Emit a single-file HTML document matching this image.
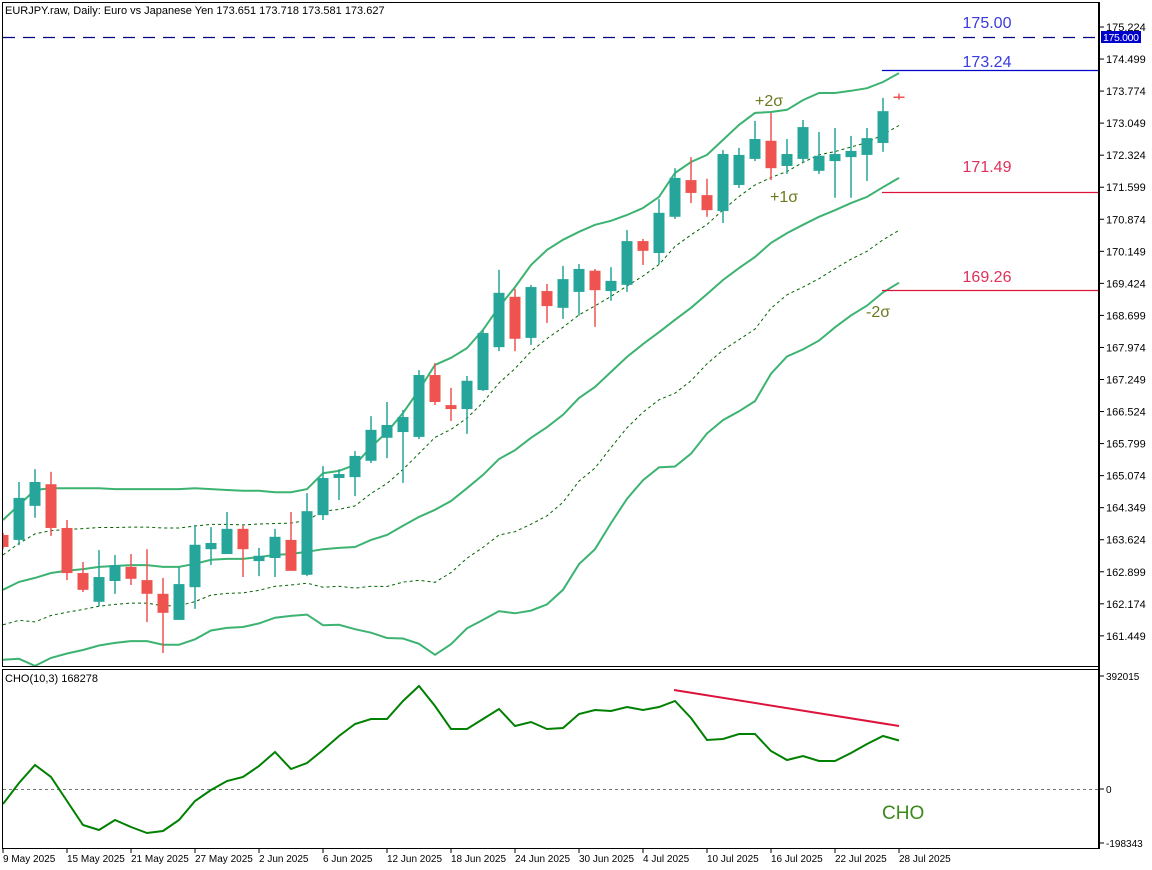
<!DOCTYPE html>
<html><head><meta charset="utf-8"><style>
html,body{margin:0;padding:0;background:#fff;}
svg{display:block;font-family:"Liberation Sans",sans-serif;}
</style></head><body>
<svg id="chart" width="1152" height="870" viewBox="0 0 1152 870">
<defs>
<clipPath id="mainClip"><rect x="3" y="3" width="1095" height="663"/></clipPath>
<clipPath id="choClip"><rect x="3" y="670" width="1095" height="178"/></clipPath>
</defs>
<rect x="0" y="0" width="1152" height="870" fill="#fff"/>
<g id="mainMarks" clip-path="url(#mainClip)"></g>
<g id="choMarks" clip-path="url(#choClip)"></g>
<g id="axes"></g>
<rect x="2.5" y="2.5" width="1096" height="664" fill="none" stroke="#000" stroke-width="1"/>
<rect x="2.5" y="669.5" width="1096" height="179" fill="none" stroke="#000" stroke-width="1"/>
<line x1="1099" y1="2" x2="1099" y2="849" stroke="#000" stroke-width="2"/>
<text x="5" y="14" font-size="11" fill="#000">EURJPY.raw, Daily:  Euro vs Japanese Yen  173.651 173.718 173.581 173.627</text>
<text x="5" y="682" font-size="11" fill="#000">CHO(10,3) 168278</text>
</svg>
<script>
const dates = ["9 May 2025","12 May","13 May","14 May","15 May 2025","16 May","19 May","20 May","21 May 2025","22 May","23 May","26 May","27 May 2025","28 May","29 May","30 May","2 Jun 2025","3 Jun","4 Jun","5 Jun","6 Jun 2025","9 Jun","10 Jun","11 Jun","12 Jun 2025","13 Jun","16 Jun","17 Jun","18 Jun 2025","19 Jun","20 Jun","23 Jun","24 Jun 2025","25 Jun","26 Jun","27 Jun","30 Jun 2025","1 Jul","2 Jul","3 Jul","4 Jul 2025","7 Jul","8 Jul","9 Jul","10 Jul 2025","11 Jul","14 Jul","15 Jul","16 Jul 2025","17 Jul","18 Jul","21 Jul","22 Jul 2025","23 Jul","24 Jul","25 Jul","28 Jul 2025"];
const opens = [163.73,163.62,164.39,164.88,163.89,162.87,162.22,162.69,163.01,162.71,162.40,161.81,162.55,163.41,163.30,163.87,163.14,163.21,163.62,162.83,164.18,165.02,165.04,165.41,165.93,166.06,165.95,167.35,166.67,166.58,167.01,167.98,169.12,168.19,169.25,168.87,169.23,169.71,169.25,169.39,170.38,170.11,170.93,171.76,171.42,171.06,171.65,172.24,172.65,172.08,172.24,171.97,172.19,172.28,172.33,172.60,173.651];
const highs = [163.78,164.93,165.22,165.16,164.07,163.12,163.39,163.28,163.30,163.41,162.76,163.01,163.96,163.91,164.25,163.94,163.44,163.87,164.25,164.68,165.29,165.22,165.63,166.42,166.74,166.56,167.46,167.62,167.06,167.33,168.37,169.73,169.30,169.39,169.41,169.82,169.86,169.75,169.79,170.63,170.43,171.33,172.03,172.28,171.79,172.44,172.49,173.10,173.28,172.69,173.12,172.85,172.94,172.76,172.94,173.62,173.718];
const lows = [163.41,163.50,164.12,163.71,162.71,162.44,162.12,162.40,162.60,161.76,161.06,161.81,162.06,163.05,163.30,162.78,162.80,162.78,162.92,162.80,164.07,164.52,164.61,165.36,165.47,164.91,165.90,166.67,166.31,166.02,166.99,167.89,167.89,168.03,168.53,168.62,168.69,168.44,169.03,169.23,169.84,169.86,170.88,171.24,170.93,170.79,171.58,172.19,171.76,171.90,172.17,171.90,171.36,171.36,171.74,172.40,173.581];
const closes = [163.46,164.57,164.93,163.89,162.87,162.49,162.78,163.05,162.74,162.40,161.97,162.62,163.51,163.55,163.87,163.41,163.26,163.69,162.92,164.27,165.02,165.11,165.52,166.11,166.22,166.40,167.35,166.74,166.58,167.22,168.30,169.21,168.17,169.34,168.91,169.52,169.75,169.27,169.48,170.38,170.16,171.02,171.81,171.47,171.08,172.35,172.33,172.69,172.03,172.35,172.96,172.31,172.35,172.42,172.71,173.32,173.627];
const bbMid = [162.49,162.67,162.76,162.87,162.92,162.96,163.01,163.03,163.05,163.05,163.01,163.01,163.08,163.17,163.19,163.19,163.23,163.28,163.30,163.35,163.41,163.44,163.46,163.62,163.73,163.94,164.14,164.30,164.50,164.79,165.09,165.45,165.65,165.93,166.17,166.45,166.83,167.08,167.42,167.76,168.05,168.32,168.60,168.87,169.18,169.50,169.77,170.02,170.34,170.56,170.75,170.93,171.08,171.24,171.38,171.60,171.81];
const bbUpper2 = [164.07,164.41,164.75,164.79,164.79,164.79,164.79,164.77,164.77,164.77,164.77,164.77,164.79,164.77,164.75,164.73,164.73,164.70,164.70,164.77,165.13,165.18,165.32,165.72,166.06,166.49,167.01,167.58,167.74,167.96,168.37,168.89,169.34,169.84,170.18,170.41,170.59,170.75,170.84,170.97,171.13,171.38,171.92,172.17,172.33,172.67,173.01,173.28,173.30,173.35,173.57,173.73,173.73,173.78,173.84,173.98,174.18];
const choValues = [-52050,20820,83280,41640,-41640,-124920,-142270,-107570,-131860,-152680,-145740,-107570,-41640,-3470,27760,41640,79810,128390,69400,90220,135330,183910,225550,242900,242900,305360,357410,288010,208200,208200,242900,277600,218610,232490,208200,211670,260250,274130,270660,284540,274130,284540,305360,246370,170030,173500,190850,190850,131860,100630,114510,97160,97160,124920,156150,183910,168278];
const priceTicks = [175.224,174.499,173.774,173.049,172.324,171.599,170.874,170.149,169.424,168.699,167.974,167.249,166.524,165.799,165.074,164.349,163.624,162.899,162.174,161.449];
const choTicks = [392015,0,-198343];
const choTickLabels = ["392015","0","-198343"];

const NS = "http://www.w3.org/2000/svg";
const xBar = i => 3 + 16 * i;
const yP = p => 27 + (175.224 - p) * 44.2;
const yC = v => 789 - v / 3470;
function mk(tag, attrs, parent) {
  const e = document.createElementNS(NS, tag);
  for (const k in attrs) e.setAttribute(k, attrs[k]);
  parent.appendChild(e);
  return e;
}
const main = document.getElementById('mainMarks');
const cho = document.getElementById('choMarks');
const axes = document.getElementById('axes');

function bandPts(k) {
  return bbMid.map((m, i) => { const s = (bbUpper2[i] - m) / 2; return xBar(i) + ',' + yP(m + k * s).toFixed(1); }).join(' ');
}
const bandDefs = [[2,'bb-upper-2sigma',false],[1,'bb-upper-1sigma',true],[0,'bb-middle',false],[-1,'bb-lower-1sigma',true],[-2,'bb-lower-2sigma',false]];
bandDefs.forEach(b => {
  const pl = mk('polyline', {points: bandPts(b[0]), fill: 'none', stroke: b[2] ? '#006400' : '#3cb371', 'stroke-width': b[2] ? 1 : 2, 'stroke-dasharray': b[2] ? '3,3' : 'none'}, main);
  
  
});

opens.forEach((o, i) => {
  const c = closes[i], up = c >= o, col = up ? '#26a69a' : '#ef5350', x = xBar(i);
  const g = mk('g', {}, main);
  
  
  mk('line', {x1: x, x2: x, y1: yP(highs[i]), y2: yP(lows[i]), stroke: col, 'stroke-width': 1.5}, g);
  const t = yP(Math.max(o, c)), b = yP(Math.min(o, c));
  mk('rect', {x: x - 5.5, y: t, width: 11, height: Math.max(1.5, b - t), fill: col}, g);
});

function hline(y, x1, col, dash, name) {
  const l = mk('line', {x1: x1, x2: 1098, y1: y, y2: y, stroke: col, 'stroke-width': 1.2, 'stroke-dasharray': dash}, main);
  
  
}
hline(37.5, 3, '#000080', '12,8', 'level-175-line');
hline(70.5, 882, '#0000cd', 'none', 'level-173-24-line');
hline(192.5, 882, '#dc143c', 'none', 'level-171-49-line');
hline(290.5, 882, '#dc143c', 'none', 'level-169-26-line');
function label(x, y, txt, col, size, name, anchor) {
  const t = mk('text', {x: x, y: y, fill: col, 'font-size': size, 'text-anchor': anchor || 'start'}, main);
  t.textContent = txt;
  
  
  return t;
}
label(987, 28, '175.00', '#3a3ae0', 16, 'level-175-label', 'middle');
label(987, 67, '173.24', '#3a3ae0', 16, 'level-173-24-label', 'middle');
label(987, 172, '171.49', '#e0305a', 16, 'level-171-49-label', 'middle');
label(987, 282, '169.26', '#e0305a', 16, 'level-169-26-label', 'middle');
label(755, 106, '+2σ', '#6b7a1f', 16, 'plus-2-sigma-label');
label(770, 202, '+1σ', '#6b7a1f', 16, 'plus-1-sigma-label');
label(866, 317, '-2σ', '#6b7a1f', 16, 'minus-2-sigma-label');

const z = mk('line', {x1: 3, x2: 1098, y1: yC(0) + 0.5, y2: yC(0) + 0.5, stroke: '#777', 'stroke-width': 1, 'stroke-dasharray': '3,3'}, cho);


const cl = mk('polyline', {points: choValues.map((v, i) => xBar(i) + ',' + yC(v).toFixed(1)).join(' '), fill: 'none', stroke: '#008000', 'stroke-width': 2}, cho);


const tl = mk('line', {x1: 674, y1: 690, x2: 899, y2: 726, stroke: '#dc143c', 'stroke-width': 2}, cho);


const ct = mk('text', {x: 882, y: 819, fill: '#3a8a1a', 'font-size': 19}, cho);
ct.textContent = 'CHO';



priceTicks.forEach(p => {
  const y = yP(p);
  mk('line', {x1: 1099, x2: 1104, y1: y, y2: y, stroke: '#000'}, axes);
  const t = mk('text', {x: 1106, y: y + 4, 'font-size': 11, fill: '#000'}, axes);
  t.textContent = p.toFixed(3);
  
  
});
const bl = mk('rect', {x: 1101, y: 31, width: 40, height: 12, fill: '#0000cd'}, axes);


const blt = mk('text', {x: 1103, y: 41, 'font-size': 10.5, fill: '#fff', textLength: 36}, axes);
blt.textContent = '175.000';


choTicks.forEach((v, i) => {
  const y = i === 0 ? 676 : (i === 2 ? 843 : yC(v));
  mk('line', {x1: 1099, x2: 1104, y1: y, y2: y, stroke: '#000'}, axes);
  const t = mk('text', {x: 1106, y: y + 4, 'font-size': 10, fill: '#000'}, axes);
  t.textContent = choTickLabels[i];
  
  
});

dates.forEach((d, i) => {
  if (i % 4 !== 0) return;
  const x = xBar(i);
  mk('line', {x1: x, x2: x, y1: 849, y2: 853, stroke: '#000'}, axes);
  const t = mk('text', {x: x, y: 862, 'font-size': 10, fill: '#000'}, axes);
  t.textContent = d;
  
  
});
</script>
</body></html>
